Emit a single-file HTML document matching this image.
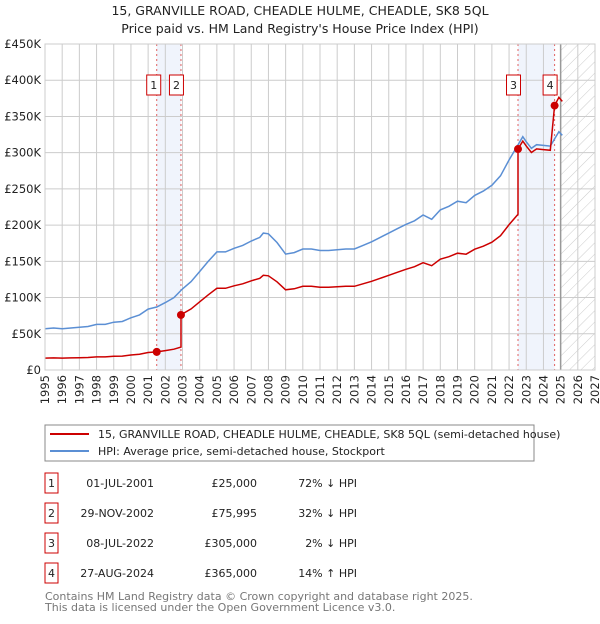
<!DOCTYPE html>
<html><head><meta charset="utf-8"><style>
html,body{margin:0;padding:0;background:#fff;}
body{width:600px;height:620px;overflow:hidden;font-family:"DejaVu Sans","Liberation Sans",sans-serif;}
svg text{font-family:"DejaVu Sans","Liberation Sans",sans-serif;}
</style></head><body>
<svg id="chart" width="600" height="620" xmlns="http://www.w3.org/2000/svg">
<defs>
<pattern id="hatch" patternUnits="userSpaceOnUse" width="8" height="8" patternTransform="rotate(45)">
<line x1="0" y1="0" x2="0" y2="8" stroke="#ccc" stroke-width="1"/>
</pattern>
</defs>
<text x="300" y="15" text-anchor="middle" font-size="12.5" fill="#222">15, GRANVILLE ROAD, CHEADLE HULME, CHEADLE, SK8 5QL</text>
<text x="300" y="33" text-anchor="middle" font-size="12.5" fill="#222">Price paid vs. HM Land Registry's House Price Index (HPI)</text>
<g id="plot"></g>
<rect x="45" y="425" width="489" height="36" fill="#fff" stroke="#888"/>
<line x1="50" y1="434" x2="89" y2="434" stroke="#cc0000" stroke-width="2"/>
<text x="98" y="438" font-size="11" fill="#222">15, GRANVILLE ROAD, CHEADLE HULME, CHEADLE, SK8 5QL (semi-detached house)</text>
<line x1="50" y1="451" x2="89" y2="451" stroke="#5b8fd4" stroke-width="2"/>
<text x="98" y="455" font-size="11" fill="#222">HPI: Average price, semi-detached house, Stockport</text>
<g id="table"></g>
<text x="45" y="600" font-size="11" fill="#777">Contains HM Land Registry data © Crown copyright and database right 2025.</text>
<text x="45" y="611" font-size="11" fill="#777">This data is licensed under the Open Government Licence v3.0.</text>
</svg>
<script>
const hpiYears=[1995,1995.5,1996,1996.5,1997,1997.5,1998,1998.5,1999,1999.5,2000,2000.5,2001,2001.5,2002,2002.5,2003,2003.5,2004,2004.5,2005,2005.5,2006,2006.5,2007,2007.5,2007.7,2008,2008.5,2009,2009.5,2010,2010.5,2011,2011.5,2012,2012.5,2013,2013.5,2014,2014.5,2015,2015.5,2016,2016.5,2017,2017.5,2018,2018.5,2019,2019.5,2020,2020.5,2021,2021.5,2022,2022.5,2022.8,2023,2023.3,2023.6,2024,2024.4,2024.65,2024.9,2025.1];
const hpiValues=[57,58,57,58,59,60,63,63,66,67,72,76,84,87,93,100,112,122,136,150,163,163,168,172,178,183,189,188,176,160,162,167,167,165,165,166,167,167,172,177,183,189,195,201,206,214,208,221,226,233,231,241,247,255,268,290,310,322,315,306,311,310,309,319,329,324];
const saleYears=[2001.5,2002.91,2022.52,2024.65];
const salePrices=[25000,75995,305000,365000];
const saleLabels=["1","2","3","4"];
const saleDates=["01-JUL-2001","29-NOV-2002","08-JUL-2022","27-AUG-2024"];
const salePriceText=["£25,000","£75,995","£305,000","£365,000"];
const saleHpiText=["72% ↓ HPI","32% ↓ HPI","2% ↓ HPI","14% ↑ HPI"];
const yTicks=[0,50,100,150,200,250,300,350,400,450];
const yTickLabels=["£0","£50K","£100K","£150K","£200K","£250K","£300K","£350K","£400K","£450K"];
const xTicks=[1995,1996,1997,1998,1999,2000,2001,2002,2003,2004,2005,2006,2007,2008,2009,2010,2011,2012,2013,2014,2015,2016,2017,2018,2019,2020,2021,2022,2023,2024,2025,2026,2027];

const X0=45,X1=595,Y0=370,Y1=44,xmin=1995,xmax=2027,ymax=450;
const xs=v=>X0+(v-xmin)/(xmax-xmin)*(X1-X0);
const ys=v=>Y0-v/ymax*(Y0-Y1);
const NS="http://www.w3.org/2000/svg";
const plot=document.getElementById('plot');
function mk(tag,attrs,parent){const e=document.createElementNS(NS,tag);for(const k in attrs)e.setAttribute(k,attrs[k]);(parent||plot).appendChild(e);return e;}
function hpiAt(t){if(t<=hpiYears[0])return hpiValues[0];for(let i=1;i<hpiYears.length;i++){if(t<=hpiYears[i]){const f=(t-hpiYears[i-1])/(hpiYears[i]-hpiYears[i-1]);return hpiValues[i-1]+f*(hpiValues[i]-hpiValues[i-1]);}}return hpiValues[hpiValues.length-1];}

let r=mk('rect',{x:xs(saleYears[0]),y:Y1,width:xs(saleYears[1])-xs(saleYears[0]),height:Y0-Y1,fill:'#f0f4fc'});


r=mk('rect',{x:xs(saleYears[2]),y:Y1,width:xs(saleYears[3])-xs(saleYears[2]),height:Y0-Y1,fill:'#f0f4fc'});


r=mk('rect',{x:xs(2025),y:Y1,width:X1-xs(2025),height:Y0-Y1,fill:'url(#hatch)'});


yTicks.forEach((t,i)=>{
 const l=mk('line',{x1:X0,x2:X1,y1:ys(t),y2:ys(t),stroke:'#ccc','stroke-width':1});
 
 
 const tx=mk('text',{x:X0-4,y:ys(t)+4,'text-anchor':'end','font-size':11.5,fill:'#222'});
 tx.textContent=yTickLabels[i];
 
 
});
xTicks.forEach(t=>{
 const l=mk('line',{x1:xs(t),x2:xs(t),y1:Y1,y2:Y0,stroke:'#ccc','stroke-width':1});
 
 
 const tx=mk('text',{x:0,y:0,'text-anchor':'end','font-size':11.5,fill:'#222',transform:`translate(${xs(t)+4},${Y0+5}) rotate(-90)`});
 tx.textContent=t;
 
 
});
const bl=mk('line',{x1:xs(2025),x2:xs(2025),y1:Y1,y2:Y0,stroke:'#999','stroke-width':1.5});


saleYears.forEach((s,i)=>{
 const l=mk('line',{x1:xs(s),x2:xs(s),y1:Y1,y2:Y0,stroke:'#e06060','stroke-width':1,'stroke-dasharray':'2,3'});
 
 
});
let d='';
hpiYears.forEach((t,i)=>{d+=(i?'L':'M')+xs(t).toFixed(1)+','+ys(hpiValues[i]).toFixed(1);});
const hp=mk('path',{d:d,fill:'none',stroke:'#5b8fd4','stroke-width':1.5});


let pts=[];
function ratioAt(t){let k=0;for(let i=0;i<saleYears.length;i++)if(t>=saleYears[i])k=i;return salePrices[k]/1000/hpiAt(saleYears[k]);}
hpiYears.forEach(t=>{
 saleYears.forEach((s,i)=>{if(t>s && (pts.length===0||pts[pts.length-1][0]<s)){pts.push([s,hpiAt(s)*ratioAt(s-0.001)]);pts.push([s,salePrices[i]/1000]);}});
 pts.push([t,hpiAt(t)*ratioAt(t)]);
});
d='';pts.forEach((p,i)=>{d+=(i?'L':'M')+xs(p[0]).toFixed(1)+','+ys(p[1]).toFixed(1);});
const pp=mk('path',{d:d,fill:'none',stroke:'#cc0000','stroke-width':1.5});


saleYears.forEach((s,i)=>{
 const c=mk('circle',{cx:xs(s),cy:ys(salePrices[i]/1000),r:4,fill:'#cc0000'});
 
 
 const lx=(i===0)?xs(s)-10:xs(s)-11.5;
 const b=mk('rect',{x:lx,y:75,width:14,height:20,fill:'#fff',stroke:'#cc0000','stroke-width':1});
 
 
 const t=mk('text',{x:lx+7,y:89,'text-anchor':'middle','font-size':11,fill:'#222'});
 t.textContent=saleLabels[i];
 
 
});
const ax=mk('rect',{x:X0,y:Y1,width:X1-X0,height:Y0-Y1,fill:'none',stroke:'#ccc'});


const tb=document.getElementById('table');
saleLabels.forEach((lab,i)=>{
 const cy=483+i*30;
 const b=mk('rect',{x:45,y:cy-10,width:13,height:20,fill:'#fff',stroke:'#cc0000','stroke-width':1},tb);
 
 
 const cells=[[51.5,'middle',lab,'table-index'],[154,'end',saleDates[i],'table-date'],[257,'end',salePriceText[i],'table-price'],[357,'end',saleHpiText[i],'table-hpi-diff']];
 cells.forEach(c=>{
  const t=mk('text',{x:c[0],y:cy+4,'text-anchor':c[1],'font-size':11,fill:'#222'},tb);
  t.textContent=c[2];
  
  
 });
});
</script>
</body></html>
